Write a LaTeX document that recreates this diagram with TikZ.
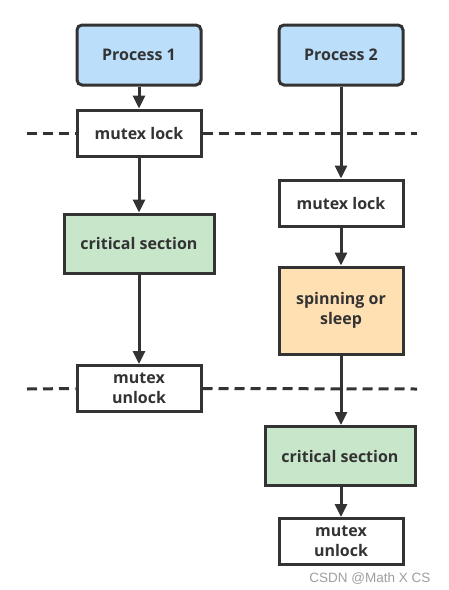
\documentclass[tikz,border=0pt]{standalone}
\usepackage{fontspec}
\setmainfont{Open Sans}
\newfontfamily\wmfont{Liberation Sans}
\usetikzlibrary{arrows.meta}
\definecolor{edge}{HTML}{333333}
\definecolor{pblue}{HTML}{BBDEFB}
\definecolor{pgreen}{HTML}{C8E6C9}
\definecolor{porange}{HTML}{FFE0B2}
\tikzset{
  box/.style={draw=edge, line width=3pt, fill=white, minimum width=124pt, minimum height=46pt,
    inner sep=0pt, align=center, font=\fontsize{16}{20}\selectfont\bfseries, text=edge},
  procbox/.style={box, fill=pblue, rounded corners=5pt, minimum height=60pt},
  critbox/.style={box, fill=pgreen, minimum width=150pt, minimum height=59pt},
  spinbox/.style={box, fill=porange, minimum height=87pt},
  flow/.style={draw=edge, line width=3pt, -{Triangle[length=13pt,width=12pt]}},
  sep/.style={draw=edge, line width=3pt, dash pattern=on 10pt off 6pt}
}
\begin{document}
\begin{tikzpicture}[x=1pt,y=-1pt]
\useasboundingbox (0,0) rectangle (448,590);
% separators
\coordinate (l1a) at (27,133);
\coordinate (l1b) at (417,133);
\coordinate (l2a) at (27,389);
\coordinate (l2b) at (417,389);
\node[procbox] (p1) at (139,55) {Process 1};
\node[procbox] (p2) at (341,55) {Process 2};
\node[box] (lk1) at (139,133) {mutex lock};
\node[critbox] (cs1) at (139,243.5) {critical section};
\node[box] (ul1) at (139,388.5) {mutex\\unlock};
\node[box] (lk2) at (341,203) {mutex lock};
\node[spinbox] (sp) at (341,310.5) {spinning or\\sleep};
\node[critbox] (cs2) at (340,456) {critical section};
\node[box] (ul2) at (341,541.5) {mutex\\unlock};
\draw[sep] (l1a) -- (lk1.west);
\draw[sep] (lk1.east) -- (l1b);
\draw[sep] (l2a) -- (ul1.west);
\draw[sep] (ul1.east) -- (l2b);
\draw[flow] (p1) -- (lk1);
\draw[flow] (lk1) -- (cs1);
\draw[flow] (cs1) -- (ul1);
\draw[flow] (p2) -- (lk2);
\draw[flow] (lk2) -- (sp);
\draw[flow] (sp.south) -- (sp.south |- cs2.north);
\draw[flow] (cs2.south -| ul2.north) -- (ul2);
\node[anchor=base east, font=\wmfont\fontsize{13.5}{16}\selectfont, text=black!38] (wm) at (434,582) {CSDN @Math X CS};
\end{tikzpicture}
\end{document}
